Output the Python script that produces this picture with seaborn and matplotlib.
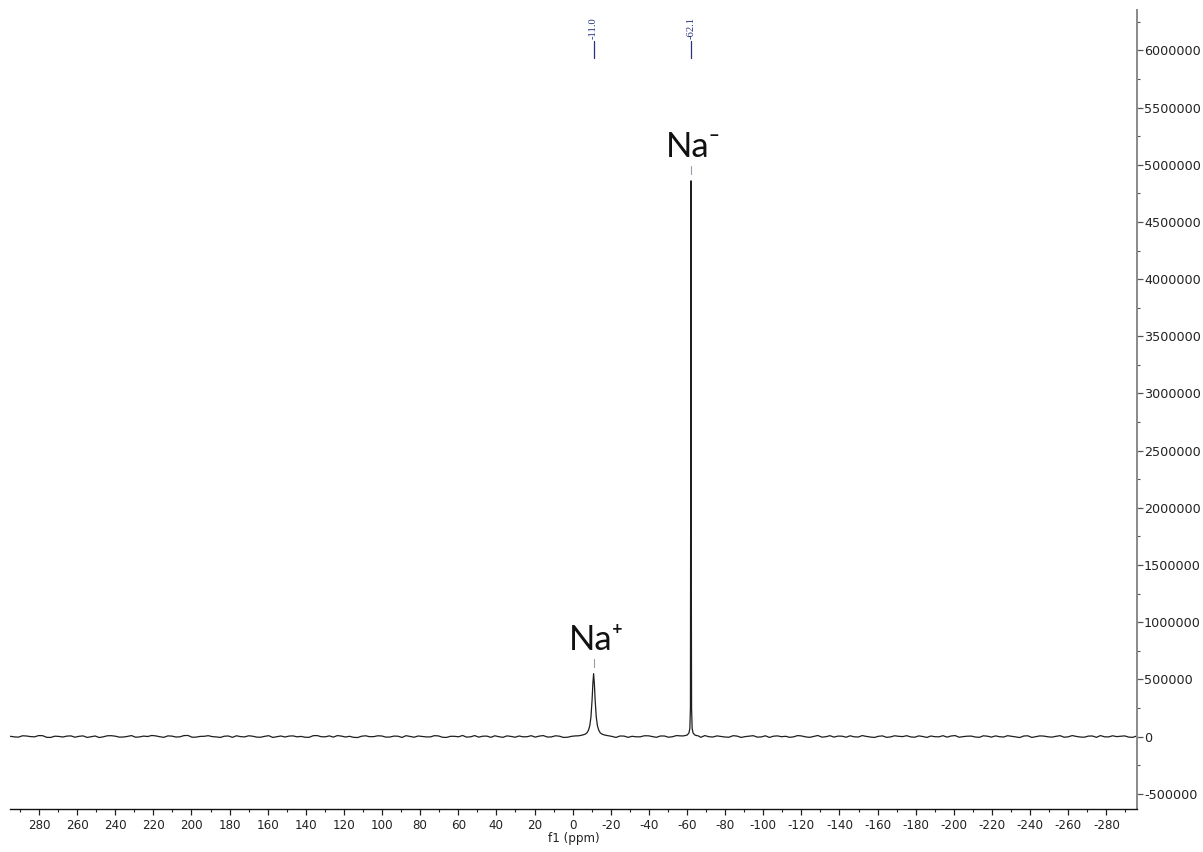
import numpy as np
import pandas as pd
import matplotlib
matplotlib.use("Agg")
import matplotlib.pyplot as plt
import matplotlib.transforms as mtransforms
from matplotlib.ticker import MultipleLocator, FuncFormatter
import seaborn as sns

# ---------------- data ----------------
# baseline noise, thousands of intensity units, across the spectral window
noise_a_k = [
    2, -6, 5, -3, 8, -9, 1, 4, -7, 6, -2, -10, 7, 3, -5, 9, -4, 0, 6, -8,
    4, -3, 10, -6, 2, -1, -9, 5, 7, -4, 3, -7, 8, -2, -5, 6, 1, -8, 9, -3,
    -6, 4, 2, -10, 7, -1, 5, -5, 3, 8, -7, 0, -4, 6, -9, 2, 10, -3, -6, 4,
    7, -8, 1, 5, -2, -6, 9, -4, 3, -7, 6, 0, -5, 8, -1, -9, 4, 2, -3, 7,
    -8, 5, -2, 6, -6, 3, 9, -5, 1, -7, 4, -1, 8, -4, -9, 6, 2, -3, 5, -8,
    10, -2, -6, 3, 7, -5, 1, -9, 6, -4, 2, 8, -7, 0, 5, -3, -6, 9, -1, 4,
    -8, 3, 6, -5, 2, -10, 7, -2, 4, -6, 8, -3, 1, -7, 5, 9, -4, -1, 6, -8,
]
noise_b_k = [
    -4, 7, -1, 9, -8, 3, -5, 6, 2, -9, 5, -3, 8, -6, 1, -7, 4, 10, -2, 6,
    -5, 9, -7, 1, 8, -4, 3, -8, -1, 7, -6, 2, -9, 5, 4, -3, -7, 8, -2, 6,
    9, -5, -8, 3, -2, 7, -6, 4, -9, 1, 5, -4, 8, -7, 2, -3, -6, 9, 3, -8,
    -2, 6, -7, -3, 8, 4, -5, 7, -9, 2, -4, 9, 6, -6, 1, 5, -8, -3, 7, -1,
    5, -7, 9, -4, 3, -8, -2, 6, -5, 8, -9, 4, -6, 7, 3, -2, -8, 9, -4, 1,
    -6, 8, 4, -7, -3, 9, -5, 2, -8, 7, -1, -4, 6, -9, -2, 8, 5, -7, 3, -5,
    7, -6, -2, 8, -4, 5, -9, 6, -3, 2, -7, 9, -5, 4, -8, -3, 7, 2, -6, 5,
]
noise_start_ppm, noise_end_ppm = 295.0, -296.0

# Na+ peak (ppm, intensity)
na_plus_ppm = [-3.0, -5.0, -6.5, -7.5, -8.3, -9.0, -9.6, -10.2, -10.6, -11.0,
               -11.4, -11.8, -12.4, -13.0, -13.7, -14.5, -15.5, -17.0, -19.0]
na_plus_int = [6e3, 12e3, 20e3, 32e3, 55e3, 95e3, 170e3, 320e3, 460e3, 550e3,
               460e3, 320e3, 170e3, 95e3, 55e3, 32e3, 20e3, 12e3, 6e3]

# Na- peak (ppm, intensity)
na_minus_ppm = [-58.0, -60.0, -61.0, -61.5, -61.8, -61.95, -62.05, -62.1,
                -62.15, -62.25, -62.4, -62.7, -63.2, -64.2, -66.0]
na_minus_int = [5e3, 12e3, 30e3, 70e3, 250e3, 1.5e6, 4.0e6, 4.86e6,
                4.0e6, 1.5e6, 250e3, 70e3, 30e3, 12e3, 5e3]

peak_shifts = [-11.0, -62.1]
peak_shift_labels = ["-11.0", "-62.1"]
peak_names = ["Na\u207a", "Na\u207b"]
peak_heights = [550e3, 4.86e6]

x_ticks = list(range(280, -281, -20))
y_major = 500000

# ---------------- assemble spectrum ----------------
noise_k = [v for pair in zip(noise_a_k, noise_b_k) for v in pair]
noise_ppm = np.linspace(noise_start_ppm, noise_end_ppm, len(noise_k))
noise_val = np.array(noise_k, dtype=float) * 900.0
keep = ~(((noise_ppm < -2) & (noise_ppm > -20)) | ((noise_ppm < -57) & (noise_ppm > -67)))
ppm = np.concatenate([noise_ppm[keep], na_plus_ppm, na_minus_ppm])
inten = np.concatenate([noise_val[keep], na_plus_int, na_minus_int])
order = np.argsort(ppm)
df = pd.DataFrame({"ppm": ppm[order], "intensity": inten[order]})

# ---------------- figure ----------------
sns.set_theme(style="white")
plt.rcParams["font.family"] = ["DejaVu Sans"]

W, H = 1203, 852
fig = plt.figure(figsize=(W / 100, H / 100), dpi=100)
left_px, right_px, top_px, bottom_px = 10, 1137, 10, 809
ax = fig.add_axes([left_px / W, 1 - bottom_px / H,
                   (right_px - left_px) / W, (bottom_px - top_px) / H])

sns.lineplot(data=df, x="ppm", y="intensity", ax=ax, color="#1e1e1e",
             linewidth=0.9, estimator=None, sort=True, legend=False)

ax.set_xlim(295.2, -296.1)
ax.set_ylim(-634000, 6354000)

# spines
ax.spines["top"].set_visible(False)
ax.spines["left"].set_visible(False)
ax.spines["right"].set_color("#8a8a8a")
ax.spines["right"].set_linewidth(1.4)
ax.spines["bottom"].set_color("#111111")
ax.spines["bottom"].set_linewidth(1.0)

# x ticks
ax.set_xticks(x_ticks)
ax.xaxis.set_minor_locator(MultipleLocator(10))
ax.set_xticklabels([str(t) for t in x_ticks])
ax.tick_params(axis="x", which="major", direction="out", length=4.5, width=0.9,
               color="#222222", pad=3, labelsize=8.6, labelcolor="#222222",
               bottom=True)
ax.tick_params(axis="x", which="minor", direction="out", length=2.5, width=0.8,
               color="#222222", bottom=True)
ax.set_xlabel("f1 (ppm)", fontsize=8.6, color="#222222", labelpad=0)

# y ticks on the right
ax.yaxis.tick_right()
ax.yaxis.set_major_locator(MultipleLocator(y_major))
ax.yaxis.set_minor_locator(MultipleLocator(y_major / 2))
ax.yaxis.set_major_formatter(FuncFormatter(lambda v, p: f"{int(round(v))}"))
ax.tick_params(axis="y", which="major", direction="out", length=4, width=0.9,
               color="#555555", pad=1, labelsize=9.2, labelcolor="#222222",
               right=True, left=False)
ax.tick_params(axis="y", which="minor", direction="out", length=2.5, width=0.8,
               color="#555555", right=True, left=False)
ax.set_ylabel("")
ax.grid(False)

# peak shift annotations at the top
trans = mtransforms.blended_transform_factory(ax.transData, ax.transAxes)
navy = "#26337f"
for x, lab in zip(peak_shifts, peak_shift_labels):
    ax.text(x, 0.9775, lab, transform=trans, rotation=90, ha="center",
            va="center", fontsize=7.6, color=navy, family="Liberation Serif")
    ax.plot([x, x], [0.9615, 0.9405], transform=trans, color=navy, lw=0.9)

# peak labels with small marker
for x, name, h in zip(peak_shifts, peak_names, peak_heights):
    ax.annotate(name, xy=(x, h), xytext=(2, 17), textcoords="offset points",
                ha="center", va="baseline", fontsize=25, color="#111111",
                family=["Lato", "DejaVu Sans"])
    ax.plot([x, x], [h + 60000, h + 130000], color="#9a9aa8", lw=0.8)

fig.savefig("out.png", dpi=100)
